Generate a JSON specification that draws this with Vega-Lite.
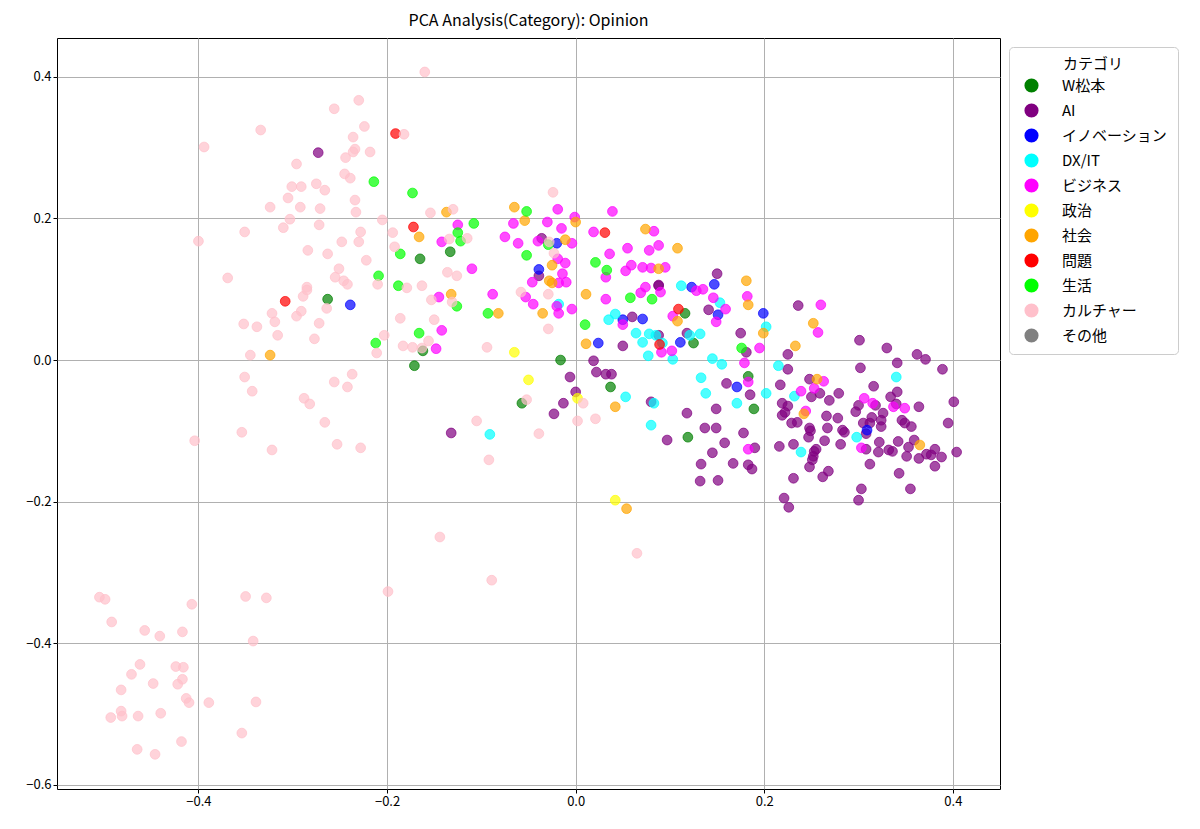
{
  "$schema": "https://vega.github.io/schema/vega-lite/v6.json",
  "autosize": {"type": "none"},
  "padding": {"left": 57, "top": 38, "right": 200, "bottom": 40},
  "width": 943,
  "height": 751,
  "title": {"text": "PCA Analysis(Category): Opinion", "fontSize": 16, "fontWeight": "normal", "font": "Noto Sans CJK JP", "color": "black", "offset": 9},
  "config": {
    "view": {"stroke": "black", "strokeWidth": 1},
    "font": "Noto Sans CJK JP",
    "axis": {"labelFontSize": 13, "labelColor": "black", "tickColor": "black", "tickSize": 4, "domain": false, "gridColor": "#b0b0b0", "gridWidth": 1, "title": null, "labelFont": "Noto Sans CJK JP"},
    "legend": {"labelFont": "Noto Sans CJK JP", "titleFont": "Noto Sans CJK JP"}
  },
  "data": {"values": [
    {"category":"W松本","pc1":-0.263,"pc2":0.086},{"category":"W松本","pc1":-0.165,"pc2":0.143},{"category":"W松本","pc1":-0.133,"pc2":0.153},{"category":"W松本","pc1":-0.162,"pc2":0.013},{"category":"W松本","pc1":-0.171,"pc2":-0.008},{"category":"W松本","pc1":-0.016,"pc2":0.000},{"category":"W松本","pc1":0.037,"pc2":-0.038},{"category":"W松本","pc1":-0.057,"pc2":-0.061},{"category":"W松本","pc1":0.119,"pc2":-0.109},{"category":"W松本","pc1":0.116,"pc2":0.066},{"category":"W松本","pc1":0.125,"pc2":0.024},{"category":"W松本","pc1":0.183,"pc2":-0.023},{"category":"W松本","pc1":0.189,"pc2":-0.069},
    {"category":"AI","pc1":-0.273,"pc2":0.293},{"category":"AI","pc1":-0.036,"pc2":0.172},{"category":"AI","pc1":-0.039,"pc2":0.119},{"category":"AI","pc1":0.088,"pc2":0.105},{"category":"AI","pc1":0.060,"pc2":0.061},{"category":"AI","pc1":0.050,"pc2":0.020},{"category":"AI","pc1":0.019,"pc2":-0.001},{"category":"AI","pc1":0.022,"pc2":-0.017},{"category":"AI","pc1":0.032,"pc2":-0.020},{"category":"AI","pc1":0.038,"pc2":-0.020},{"category":"AI","pc1":-0.006,"pc2":-0.024},{"category":"AI","pc1":0.000,"pc2":-0.045},{"category":"AI","pc1":-0.013,"pc2":-0.061},{"category":"AI","pc1":-0.023,"pc2":-0.076},{"category":"AI","pc1":0.080,"pc2":-0.059},{"category":"AI","pc1":0.118,"pc2":-0.075},{"category":"AI","pc1":0.097,"pc2":-0.113},{"category":"AI","pc1":-0.132,"pc2":-0.103},{"category":"AI","pc1":0.150,"pc2":0.122},{"category":"AI","pc1":0.088,"pc2":0.106},{"category":"AI","pc1":0.141,"pc2":0.071},{"category":"AI","pc1":0.118,"pc2":0.038},{"category":"AI","pc1":0.088,"pc2":0.035},{"category":"AI","pc1":0.175,"pc2":0.038},{"category":"AI","pc1":0.181,"pc2":0.011},{"category":"AI","pc1":0.236,"pc2":0.077},{"category":"AI","pc1":0.225,"pc2":0.008},{"category":"AI","pc1":0.225,"pc2":-0.013},{"category":"AI","pc1":0.160,"pc2":-0.033},{"category":"AI","pc1":0.185,"pc2":-0.049},{"category":"AI","pc1":0.149,"pc2":-0.069},{"category":"AI","pc1":0.137,"pc2":-0.096},{"category":"AI","pc1":0.149,"pc2":-0.096},{"category":"AI","pc1":0.158,"pc2":-0.117},{"category":"AI","pc1":0.178,"pc2":-0.103},{"category":"AI","pc1":0.190,"pc2":-0.124},{"category":"AI","pc1":0.145,"pc2":-0.131},{"category":"AI","pc1":0.133,"pc2":-0.147},{"category":"AI","pc1":0.167,"pc2":-0.146},{"category":"AI","pc1":0.183,"pc2":-0.148},{"category":"AI","pc1":0.187,"pc2":-0.154},{"category":"AI","pc1":0.132,"pc2":-0.171},{"category":"AI","pc1":0.151,"pc2":-0.170},{"category":"AI","pc1":0.301,"pc2":0.028},{"category":"AI","pc1":0.330,"pc2":0.017},{"category":"AI","pc1":0.362,"pc2":0.008},{"category":"AI","pc1":0.371,"pc2":0.001},{"category":"AI","pc1":0.341,"pc2":-0.004},{"category":"AI","pc1":0.389,"pc2":-0.013},{"category":"AI","pc1":0.302,"pc2":-0.011},{"category":"AI","pc1":0.248,"pc2":-0.027},{"category":"AI","pc1":0.217,"pc2":-0.035},{"category":"AI","pc1":0.250,"pc2":-0.052},{"category":"AI","pc1":0.259,"pc2":-0.047},{"category":"AI","pc1":0.279,"pc2":-0.047},{"category":"AI","pc1":0.269,"pc2":-0.057},{"category":"AI","pc1":0.316,"pc2":-0.037},{"category":"AI","pc1":0.334,"pc2":-0.052},{"category":"AI","pc1":0.341,"pc2":-0.045},{"category":"AI","pc1":0.300,"pc2":-0.064},{"category":"AI","pc1":0.297,"pc2":-0.073},{"category":"AI","pc1":0.318,"pc2":-0.064},{"category":"AI","pc1":0.326,"pc2":-0.075},{"category":"AI","pc1":0.340,"pc2":-0.062},{"category":"AI","pc1":0.364,"pc2":-0.066},{"category":"AI","pc1":0.401,"pc2":-0.059},{"category":"AI","pc1":0.395,"pc2":-0.089},{"category":"AI","pc1":0.219,"pc2":-0.061},{"category":"AI","pc1":0.225,"pc2":-0.065},{"category":"AI","pc1":0.222,"pc2":-0.074},{"category":"AI","pc1":0.219,"pc2":-0.078},{"category":"AI","pc1":0.229,"pc2":-0.089},{"category":"AI","pc1":0.235,"pc2":-0.088},{"category":"AI","pc1":0.266,"pc2":-0.079},{"category":"AI","pc1":0.278,"pc2":-0.082},{"category":"AI","pc1":0.248,"pc2":-0.096},{"category":"AI","pc1":0.249,"pc2":-0.100},{"category":"AI","pc1":0.247,"pc2":-0.109},{"category":"AI","pc1":0.267,"pc2":-0.096},{"category":"AI","pc1":0.283,"pc2":-0.099},{"category":"AI","pc1":0.285,"pc2":-0.102},{"category":"AI","pc1":0.314,"pc2":-0.081},{"category":"AI","pc1":0.312,"pc2":-0.089},{"category":"AI","pc1":0.305,"pc2":-0.089},{"category":"AI","pc1":0.308,"pc2":-0.104},{"category":"AI","pc1":0.324,"pc2":-0.094},{"category":"AI","pc1":0.324,"pc2":-0.085},{"category":"AI","pc1":0.346,"pc2":-0.085},{"category":"AI","pc1":0.356,"pc2":-0.094},{"category":"AI","pc1":0.349,"pc2":-0.089},{"category":"AI","pc1":0.308,"pc2":-0.126},{"category":"AI","pc1":0.322,"pc2":-0.116},{"category":"AI","pc1":0.321,"pc2":-0.130},{"category":"AI","pc1":0.332,"pc2":-0.127},{"category":"AI","pc1":0.336,"pc2":-0.129},{"category":"AI","pc1":0.342,"pc2":-0.115},{"category":"AI","pc1":0.353,"pc2":-0.123},{"category":"AI","pc1":0.359,"pc2":-0.113},{"category":"AI","pc1":0.351,"pc2":-0.136},{"category":"AI","pc1":0.364,"pc2":-0.139},{"category":"AI","pc1":0.372,"pc2":-0.133},{"category":"AI","pc1":0.377,"pc2":-0.134},{"category":"AI","pc1":0.381,"pc2":-0.126},{"category":"AI","pc1":0.388,"pc2":-0.137},{"category":"AI","pc1":0.381,"pc2":-0.150},{"category":"AI","pc1":0.404,"pc2":-0.130},{"category":"AI","pc1":0.312,"pc2":-0.147},{"category":"AI","pc1":0.343,"pc2":-0.160},{"category":"AI","pc1":0.355,"pc2":-0.182},{"category":"AI","pc1":0.303,"pc2":-0.182},{"category":"AI","pc1":0.300,"pc2":-0.198},{"category":"AI","pc1":0.216,"pc2":-0.122},{"category":"AI","pc1":0.231,"pc2":-0.119},{"category":"AI","pc1":0.253,"pc2":-0.129},{"category":"AI","pc1":0.255,"pc2":-0.126},{"category":"AI","pc1":0.252,"pc2":-0.136},{"category":"AI","pc1":0.251,"pc2":-0.141},{"category":"AI","pc1":0.264,"pc2":-0.114},{"category":"AI","pc1":0.281,"pc2":-0.119},{"category":"AI","pc1":0.248,"pc2":-0.151},{"category":"AI","pc1":0.268,"pc2":-0.157},{"category":"AI","pc1":0.262,"pc2":-0.165},{"category":"AI","pc1":0.231,"pc2":-0.167},{"category":"AI","pc1":0.221,"pc2":-0.195},{"category":"AI","pc1":0.226,"pc2":-0.208},
    {"category":"イノベーション","pc1":-0.239,"pc2":0.078},{"category":"イノベーション","pc1":-0.020,"pc2":0.165},{"category":"イノベーション","pc1":-0.039,"pc2":0.128},{"category":"イノベーション","pc1":0.024,"pc2":0.024},{"category":"イノベーション","pc1":0.050,"pc2":0.057},{"category":"イノベーション","pc1":0.071,"pc2":0.058},{"category":"イノベーション","pc1":0.111,"pc2":0.025},{"category":"イノベーション","pc1":0.147,"pc2":0.107},{"category":"イノベーション","pc1":0.123,"pc2":0.103},{"category":"イノベーション","pc1":0.151,"pc2":0.064},{"category":"イノベーション","pc1":0.199,"pc2":0.066},{"category":"イノベーション","pc1":0.171,"pc2":-0.038},{"category":"イノベーション","pc1":0.309,"pc2":-0.099},
    {"category":"DX/IT","pc1":0.071,"pc2":0.025},{"category":"DX/IT","pc1":-0.018,"pc2":0.079},{"category":"DX/IT","pc1":0.042,"pc2":0.065},{"category":"DX/IT","pc1":0.035,"pc2":0.057},{"category":"DX/IT","pc1":0.064,"pc2":0.038},{"category":"DX/IT","pc1":0.078,"pc2":0.037},{"category":"DX/IT","pc1":0.085,"pc2":0.035},{"category":"DX/IT","pc1":0.112,"pc2":0.105},{"category":"DX/IT","pc1":0.121,"pc2":0.035},{"category":"DX/IT","pc1":0.132,"pc2":0.037},{"category":"DX/IT","pc1":0.092,"pc2":0.024},{"category":"DX/IT","pc1":0.077,"pc2":0.006},{"category":"DX/IT","pc1":0.103,"pc2":0.001},{"category":"DX/IT","pc1":0.145,"pc2":0.002},{"category":"DX/IT","pc1":0.155,"pc2":-0.006},{"category":"DX/IT","pc1":0.153,"pc2":0.081},{"category":"DX/IT","pc1":0.202,"pc2":0.047},{"category":"DX/IT","pc1":0.053,"pc2":-0.052},{"category":"DX/IT","pc1":0.083,"pc2":-0.061},{"category":"DX/IT","pc1":0.080,"pc2":-0.092},{"category":"DX/IT","pc1":-0.091,"pc2":-0.105},{"category":"DX/IT","pc1":0.215,"pc2":-0.008},{"category":"DX/IT","pc1":0.133,"pc2":-0.025},{"category":"DX/IT","pc1":0.138,"pc2":-0.047},{"category":"DX/IT","pc1":0.171,"pc2":-0.061},{"category":"DX/IT","pc1":0.202,"pc2":-0.047},{"category":"DX/IT","pc1":0.232,"pc2":-0.051},{"category":"DX/IT","pc1":0.340,"pc2":-0.024},{"category":"DX/IT","pc1":0.298,"pc2":-0.109},{"category":"DX/IT","pc1":0.239,"pc2":-0.130},
    {"category":"ビジネス","pc1":-0.142,"pc2":0.167},{"category":"ビジネス","pc1":-0.125,"pc2":0.191},{"category":"ビジネス","pc1":-0.145,"pc2":0.089},{"category":"ビジネス","pc1":-0.142,"pc2":0.042},{"category":"ビジネス","pc1":-0.148,"pc2":0.016},{"category":"ビジネス","pc1":-0.110,"pc2":0.129},{"category":"ビジネス","pc1":-0.088,"pc2":0.093},{"category":"ビジネス","pc1":-0.066,"pc2":0.193},{"category":"ビジネス","pc1":-0.030,"pc2":0.195},{"category":"ビジネス","pc1":-0.019,"pc2":0.213},{"category":"ビジネス","pc1":0.039,"pc2":0.210},{"category":"ビジネス","pc1":-0.015,"pc2":0.186},{"category":"ビジネス","pc1":-0.001,"pc2":0.202},{"category":"ビジネス","pc1":-0.075,"pc2":0.174},{"category":"ビジネス","pc1":-0.061,"pc2":0.165},{"category":"ビジネス","pc1":-0.040,"pc2":0.168},{"category":"ビジネス","pc1":-0.004,"pc2":0.165},{"category":"ビジネス","pc1":0.019,"pc2":0.181},{"category":"ビジネス","pc1":0.083,"pc2":0.182},{"category":"ビジネス","pc1":-0.019,"pc2":0.143},{"category":"ビジネス","pc1":0.036,"pc2":0.150},{"category":"ビジネス","pc1":0.055,"pc2":0.158},{"category":"ビジネス","pc1":0.078,"pc2":0.155},{"category":"ビジネス","pc1":0.088,"pc2":0.162},{"category":"ビジネス","pc1":-0.011,"pc2":0.137},{"category":"ビジネス","pc1":-0.014,"pc2":0.122},{"category":"ビジネス","pc1":0.032,"pc2":0.117},{"category":"ビジネス","pc1":0.053,"pc2":0.126},{"category":"ビジネス","pc1":0.059,"pc2":0.134},{"category":"ビジネス","pc1":0.071,"pc2":0.131},{"category":"ビジネス","pc1":0.080,"pc2":0.130},{"category":"ビジネス","pc1":0.095,"pc2":0.131},{"category":"ビジネス","pc1":-0.018,"pc2":0.109},{"category":"ビジネス","pc1":-0.010,"pc2":0.110},{"category":"ビジネス","pc1":-0.046,"pc2":0.110},{"category":"ビジネス","pc1":-0.053,"pc2":0.089},{"category":"ビジネス","pc1":-0.045,"pc2":0.079},{"category":"ビジネス","pc1":-0.020,"pc2":0.076},{"category":"ビジネス","pc1":-0.018,"pc2":0.066},{"category":"ビジネス","pc1":-0.004,"pc2":0.072},{"category":"ビジネス","pc1":0.032,"pc2":0.086},{"category":"ビジネス","pc1":0.069,"pc2":0.095},{"category":"ビジネス","pc1":0.090,"pc2":0.096},{"category":"ビジネス","pc1":0.103,"pc2":0.062},{"category":"ビジネス","pc1":0.050,"pc2":0.050},{"category":"ビジネス","pc1":0.091,"pc2":0.011},{"category":"ビジネス","pc1":0.102,"pc2":0.013},{"category":"ビジネス","pc1":0.128,"pc2":0.098},{"category":"ビジネス","pc1":0.135,"pc2":0.100},{"category":"ビジネス","pc1":0.182,"pc2":0.090},{"category":"ビジネス","pc1":0.146,"pc2":0.088},{"category":"ビジネス","pc1":0.159,"pc2":0.072},{"category":"ビジネス","pc1":0.149,"pc2":0.054},{"category":"ビジネス","pc1":0.074,"pc2":0.103},{"category":"ビジネス","pc1":0.195,"pc2":0.017},{"category":"ビジネス","pc1":0.260,"pc2":0.078},{"category":"ビジネス","pc1":0.257,"pc2":0.039},{"category":"ビジネス","pc1":0.179,"pc2":-0.004},{"category":"ビジネス","pc1":0.183,"pc2":-0.031},{"category":"ビジネス","pc1":0.183,"pc2":-0.126},{"category":"ビジネス","pc1":0.263,"pc2":-0.030},{"category":"ビジネス","pc1":0.253,"pc2":-0.040},{"category":"ビジネス","pc1":0.239,"pc2":-0.044},{"category":"ビジネス","pc1":0.306,"pc2":-0.054},{"category":"ビジネス","pc1":0.315,"pc2":-0.061},{"category":"ビジネス","pc1":0.337,"pc2":-0.066},{"category":"ビジネス","pc1":0.349,"pc2":-0.068},{"category":"ビジネス","pc1":0.244,"pc2":-0.072},{"category":"ビジネス","pc1":0.303,"pc2":-0.124},
    {"category":"政治","pc1":-0.065,"pc2":0.011},{"category":"政治","pc1":-0.050,"pc2":-0.028},{"category":"政治","pc1":0.002,"pc2":-0.054},{"category":"政治","pc1":0.042,"pc2":-0.198},
    {"category":"社会","pc1":-0.324,"pc2":0.007},{"category":"社会","pc1":-0.166,"pc2":0.174},{"category":"社会","pc1":-0.137,"pc2":0.209},{"category":"社会","pc1":-0.132,"pc2":0.093},{"category":"社会","pc1":-0.065,"pc2":0.216},{"category":"社会","pc1":-0.054,"pc2":0.197},{"category":"社会","pc1":0.000,"pc2":0.195},{"category":"社会","pc1":-0.011,"pc2":0.170},{"category":"社会","pc1":0.074,"pc2":0.185},{"category":"社会","pc1":-0.025,"pc2":0.134},{"category":"社会","pc1":0.108,"pc2":0.158},{"category":"社会","pc1":0.088,"pc2":0.129},{"category":"社会","pc1":-0.028,"pc2":0.112},{"category":"社会","pc1":-0.025,"pc2":0.109},{"category":"社会","pc1":-0.082,"pc2":0.066},{"category":"社会","pc1":-0.035,"pc2":0.066},{"category":"社会","pc1":0.011,"pc2":0.093},{"category":"社会","pc1":0.011,"pc2":0.023},{"category":"社会","pc1":0.108,"pc2":0.055},{"category":"社会","pc1":0.181,"pc2":0.112},{"category":"社会","pc1":0.183,"pc2":0.078},{"category":"社会","pc1":0.199,"pc2":0.038},{"category":"社会","pc1":0.252,"pc2":0.052},{"category":"社会","pc1":0.233,"pc2":0.020},{"category":"社会","pc1":0.042,"pc2":-0.066},{"category":"社会","pc1":0.054,"pc2":-0.210},{"category":"社会","pc1":0.256,"pc2":-0.027},{"category":"社会","pc1":0.242,"pc2":-0.076},{"category":"社会","pc1":0.365,"pc2":-0.120},
    {"category":"問題","pc1":-0.191,"pc2":0.320},{"category":"問題","pc1":-0.308,"pc2":0.083},{"category":"問題","pc1":-0.172,"pc2":0.188},{"category":"問題","pc1":0.031,"pc2":0.180},{"category":"問題","pc1":0.109,"pc2":0.072},{"category":"問題","pc1":0.089,"pc2":0.022},
    {"category":"生活","pc1":-0.214,"pc2":0.252},{"category":"生活","pc1":-0.173,"pc2":0.236},{"category":"生活","pc1":-0.052,"pc2":0.210},{"category":"生活","pc1":-0.108,"pc2":0.193},{"category":"生活","pc1":-0.125,"pc2":0.180},{"category":"生活","pc1":-0.122,"pc2":0.168},{"category":"生活","pc1":-0.186,"pc2":0.150},{"category":"生活","pc1":-0.052,"pc2":0.148},{"category":"生活","pc1":-0.029,"pc2":0.163},{"category":"生活","pc1":0.021,"pc2":0.138},{"category":"生活","pc1":0.033,"pc2":0.127},{"category":"生活","pc1":-0.188,"pc2":0.105},{"category":"生活","pc1":-0.126,"pc2":0.076},{"category":"生活","pc1":-0.166,"pc2":0.038},{"category":"生活","pc1":-0.212,"pc2":0.024},{"category":"生活","pc1":-0.093,"pc2":0.066},{"category":"生活","pc1":0.010,"pc2":0.050},{"category":"生活","pc1":0.058,"pc2":0.088},{"category":"生活","pc1":0.081,"pc2":0.086},{"category":"生活","pc1":0.176,"pc2":0.017},{"category":"生活","pc1":-0.209,"pc2":0.119},
    {"category":"カルチャー","pc1":-0.160,"pc2":0.407},{"category":"カルチャー","pc1":-0.230,"pc2":0.367},{"category":"カルチャー","pc1":-0.256,"pc2":0.355},{"category":"カルチャー","pc1":-0.334,"pc2":0.325},{"category":"カルチャー","pc1":-0.224,"pc2":0.330},{"category":"カルチャー","pc1":-0.236,"pc2":0.315},{"category":"カルチャー","pc1":-0.182,"pc2":0.319},{"category":"カルチャー","pc1":-0.234,"pc2":0.298},{"category":"カルチャー","pc1":-0.236,"pc2":0.294},{"category":"カルチャー","pc1":-0.244,"pc2":0.286},{"category":"カルチャー","pc1":-0.218,"pc2":0.294},{"category":"カルチャー","pc1":-0.296,"pc2":0.277},{"category":"カルチャー","pc1":-0.245,"pc2":0.263},{"category":"カルチャー","pc1":-0.239,"pc2":0.257},{"category":"カルチャー","pc1":-0.301,"pc2":0.245},{"category":"カルチャー","pc1":-0.291,"pc2":0.245},{"category":"カルチャー","pc1":-0.275,"pc2":0.249},{"category":"カルチャー","pc1":-0.266,"pc2":0.240},{"category":"カルチャー","pc1":-0.305,"pc2":0.229},{"category":"カルチャー","pc1":-0.324,"pc2":0.216},{"category":"カルチャー","pc1":-0.292,"pc2":0.216},{"category":"カルチャー","pc1":-0.271,"pc2":0.214},{"category":"カルチャー","pc1":-0.234,"pc2":0.226},{"category":"カルチャー","pc1":-0.233,"pc2":0.209},{"category":"カルチャー","pc1":-0.303,"pc2":0.199},{"category":"カルチャー","pc1":-0.205,"pc2":0.198},{"category":"カルチャー","pc1":-0.351,"pc2":0.181},{"category":"カルチャー","pc1":-0.310,"pc2":0.187},{"category":"カルチャー","pc1":-0.272,"pc2":0.191},{"category":"カルチャー","pc1":-0.228,"pc2":0.181},{"category":"カルチャー","pc1":-0.248,"pc2":0.167},{"category":"カルチャー","pc1":-0.230,"pc2":0.167},{"category":"カルチャー","pc1":-0.194,"pc2":0.180},{"category":"カルチャー","pc1":-0.154,"pc2":0.208},{"category":"カルチャー","pc1":-0.394,"pc2":0.301},{"category":"カルチャー","pc1":-0.400,"pc2":0.168},{"category":"カルチャー","pc1":-0.284,"pc2":0.155},{"category":"カルチャー","pc1":-0.263,"pc2":0.150},{"category":"カルチャー","pc1":-0.222,"pc2":0.141},{"category":"カルチャー","pc1":-0.251,"pc2":0.129},{"category":"カルチャー","pc1":-0.255,"pc2":0.117},{"category":"カルチャー","pc1":-0.246,"pc2":0.112},{"category":"カルチャー","pc1":-0.242,"pc2":0.107},{"category":"カルチャー","pc1":-0.369,"pc2":0.116},{"category":"カルチャー","pc1":-0.285,"pc2":0.103},{"category":"カルチャー","pc1":-0.210,"pc2":0.107},{"category":"カルチャー","pc1":-0.285,"pc2":0.099},{"category":"カルチャー","pc1":-0.289,"pc2":0.090},{"category":"カルチャー","pc1":-0.264,"pc2":0.073},{"category":"カルチャー","pc1":-0.322,"pc2":0.066},{"category":"カルチャー","pc1":-0.291,"pc2":0.069},{"category":"カルチャー","pc1":-0.296,"pc2":0.062},{"category":"カルチャー","pc1":-0.319,"pc2":0.054},{"category":"カルチャー","pc1":-0.272,"pc2":0.052},{"category":"カルチャー","pc1":-0.352,"pc2":0.051},{"category":"カルチャー","pc1":-0.338,"pc2":0.047},{"category":"カルチャー","pc1":-0.316,"pc2":0.035},{"category":"カルチャー","pc1":-0.277,"pc2":0.030},{"category":"カルチャー","pc1":-0.203,"pc2":0.035},{"category":"カルチャー","pc1":-0.211,"pc2":0.010},{"category":"カルチャー","pc1":-0.345,"pc2":0.007},{"category":"カルチャー","pc1":-0.351,"pc2":-0.024},{"category":"カルチャー","pc1":-0.343,"pc2":-0.044},{"category":"カルチャー","pc1":-0.256,"pc2":-0.031},{"category":"カルチャー","pc1":-0.237,"pc2":-0.020},{"category":"カルチャー","pc1":-0.242,"pc2":-0.038},{"category":"カルチャー","pc1":-0.288,"pc2":-0.054},{"category":"カルチャー","pc1":-0.282,"pc2":-0.062},{"category":"カルチャー","pc1":-0.266,"pc2":-0.088},{"category":"カルチャー","pc1":-0.354,"pc2":-0.102},{"category":"カルチャー","pc1":-0.404,"pc2":-0.114},{"category":"カルチャー","pc1":-0.322,"pc2":-0.127},{"category":"カルチャー","pc1":-0.253,"pc2":-0.119},{"category":"カルチャー","pc1":-0.228,"pc2":-0.124},{"category":"カルチャー","pc1":-0.192,"pc2":0.160},{"category":"カルチャー","pc1":-0.136,"pc2":0.124},{"category":"カルチャー","pc1":-0.126,"pc2":0.119},{"category":"カルチャー","pc1":-0.179,"pc2":0.102},{"category":"カルチャー","pc1":-0.163,"pc2":0.105},{"category":"カルチャー","pc1":-0.153,"pc2":0.085},{"category":"カルチャー","pc1":-0.131,"pc2":0.082},{"category":"カルチャー","pc1":-0.186,"pc2":0.059},{"category":"カルチャー","pc1":-0.150,"pc2":0.057},{"category":"カルチャー","pc1":-0.156,"pc2":0.027},{"category":"カルチャー","pc1":-0.183,"pc2":0.020},{"category":"カルチャー","pc1":-0.173,"pc2":0.018},{"category":"カルチャー","pc1":-0.163,"pc2":0.017},{"category":"カルチャー","pc1":-0.134,"pc2":0.171},{"category":"カルチャー","pc1":-0.115,"pc2":0.172},{"category":"カルチャー","pc1":-0.130,"pc2":0.213},{"category":"カルチャー","pc1":-0.024,"pc2":0.237},{"category":"カルチャー","pc1":-0.028,"pc2":0.167},{"category":"カルチャー","pc1":-0.023,"pc2":0.151},{"category":"カルチャー","pc1":-0.058,"pc2":0.096},{"category":"カルチャー","pc1":-0.029,"pc2":0.093},{"category":"カルチャー","pc1":-0.029,"pc2":0.044},{"category":"カルチャー","pc1":-0.094,"pc2":0.018},{"category":"カルチャー","pc1":-0.052,"pc2":-0.056},{"category":"カルチャー","pc1":0.008,"pc2":-0.061},{"category":"カルチャー","pc1":0.002,"pc2":-0.086},{"category":"カルチャー","pc1":0.021,"pc2":-0.083},{"category":"カルチャー","pc1":-0.105,"pc2":-0.086},{"category":"カルチャー","pc1":-0.039,"pc2":-0.104},{"category":"カルチャー","pc1":-0.092,"pc2":-0.141},{"category":"カルチャー","pc1":-0.144,"pc2":-0.250},{"category":"カルチャー","pc1":-0.199,"pc2":-0.327},{"category":"カルチャー","pc1":-0.089,"pc2":-0.311},{"category":"カルチャー","pc1":0.065,"pc2":-0.273},{"category":"カルチャー","pc1":-0.505,"pc2":-0.335},{"category":"カルチャー","pc1":-0.499,"pc2":-0.338},{"category":"カルチャー","pc1":-0.492,"pc2":-0.370},{"category":"カルチャー","pc1":-0.407,"pc2":-0.345},{"category":"カルチャー","pc1":-0.350,"pc2":-0.334},{"category":"カルチャー","pc1":-0.328,"pc2":-0.336},{"category":"カルチャー","pc1":-0.457,"pc2":-0.382},{"category":"カルチャー","pc1":-0.441,"pc2":-0.390},{"category":"カルチャー","pc1":-0.417,"pc2":-0.384},{"category":"カルチャー","pc1":-0.342,"pc2":-0.397},{"category":"カルチャー","pc1":-0.462,"pc2":-0.430},{"category":"カルチャー","pc1":-0.424,"pc2":-0.433},{"category":"カルチャー","pc1":-0.416,"pc2":-0.434},{"category":"カルチャー","pc1":-0.471,"pc2":-0.444},{"category":"カルチャー","pc1":-0.417,"pc2":-0.451},{"category":"カルチャー","pc1":-0.422,"pc2":-0.458},{"category":"カルチャー","pc1":-0.448,"pc2":-0.457},{"category":"カルチャー","pc1":-0.482,"pc2":-0.466},{"category":"カルチャー","pc1":-0.413,"pc2":-0.478},{"category":"カルチャー","pc1":-0.410,"pc2":-0.484},{"category":"カルチャー","pc1":-0.389,"pc2":-0.484},{"category":"カルチャー","pc1":-0.339,"pc2":-0.483},{"category":"カルチャー","pc1":-0.482,"pc2":-0.496},{"category":"カルチャー","pc1":-0.493,"pc2":-0.505},{"category":"カルチャー","pc1":-0.481,"pc2":-0.503},{"category":"カルチャー","pc1":-0.464,"pc2":-0.503},{"category":"カルチャー","pc1":-0.440,"pc2":-0.499},{"category":"カルチャー","pc1":-0.354,"pc2":-0.527},{"category":"カルチャー","pc1":-0.418,"pc2":-0.539},{"category":"カルチャー","pc1":-0.465,"pc2":-0.550},{"category":"カルチャー","pc1":-0.446,"pc2":-0.557}
  ]},
  "mark": {"type": "point", "filled": true, "size": 95, "fillOpacity": 0.7, "strokeOpacity": 0.7, "strokeWidth": 1},
  "encoding": {
    "x": {"field": "pc1", "type": "quantitative", "scale": {"domain": [-0.55, 0.45], "nice": false, "zero": false}, "axis": {"values": [-0.4, -0.2, 0, 0.2, 0.4], "format": ".1f"}},
    "y": {"field": "pc2", "type": "quantitative", "scale": {"domain": [-0.606, 0.455], "nice": false, "zero": false}, "axis": {"values": [-0.6, -0.4, -0.2, 0, 0.2, 0.4], "format": ".1f"}},
    "color": {
      "field": "category", "type": "nominal", "sort": null,
      "scale": {"domain": ["W松本", "AI", "イノベーション", "DX/IT", "ビジネス", "政治", "社会", "問題", "生活", "カルチャー", "その他"],
                "range": ["#008000", "#800080", "#0000ff", "#00ffff", "#ff00ff", "#ffff00", "#ffa500", "#ff0000", "#00ff00", "#ffc0cb", "#808080"]},
      "legend": {"title": "カテゴリ", "orient": "none", "legendX": 952, "legendY": 9, "titleAnchor": "middle", "titleFontSize": 15, "titleFontWeight": "normal", "titleColor": "black", "titlePadding": 6, "labelFontSize": 15, "labelColor": "black", "labelOffset": 23, "symbolOffset": 5, "symbolType": "circle", "symbolSize": 200, "symbolOpacity": 1, "symbolStrokeWidth": 0, "rowPadding": 9, "padding": 10, "strokeColor": "#cccccc", "fillColor": "white", "cornerRadius": 4}
    },
    "stroke": {"field": "category", "type": "nominal", "scale": {"domain": ["W松本", "AI", "イノベーション", "DX/IT", "ビジネス", "政治", "社会", "問題", "生活", "カルチャー", "その他"], "range": ["#008000", "#800080", "#0000ff", "#00ffff", "#ff00ff", "#ffff00", "#ffa500", "#ff0000", "#00ff00", "#ffc0cb", "#808080"]}, "legend": null}
  }
}
